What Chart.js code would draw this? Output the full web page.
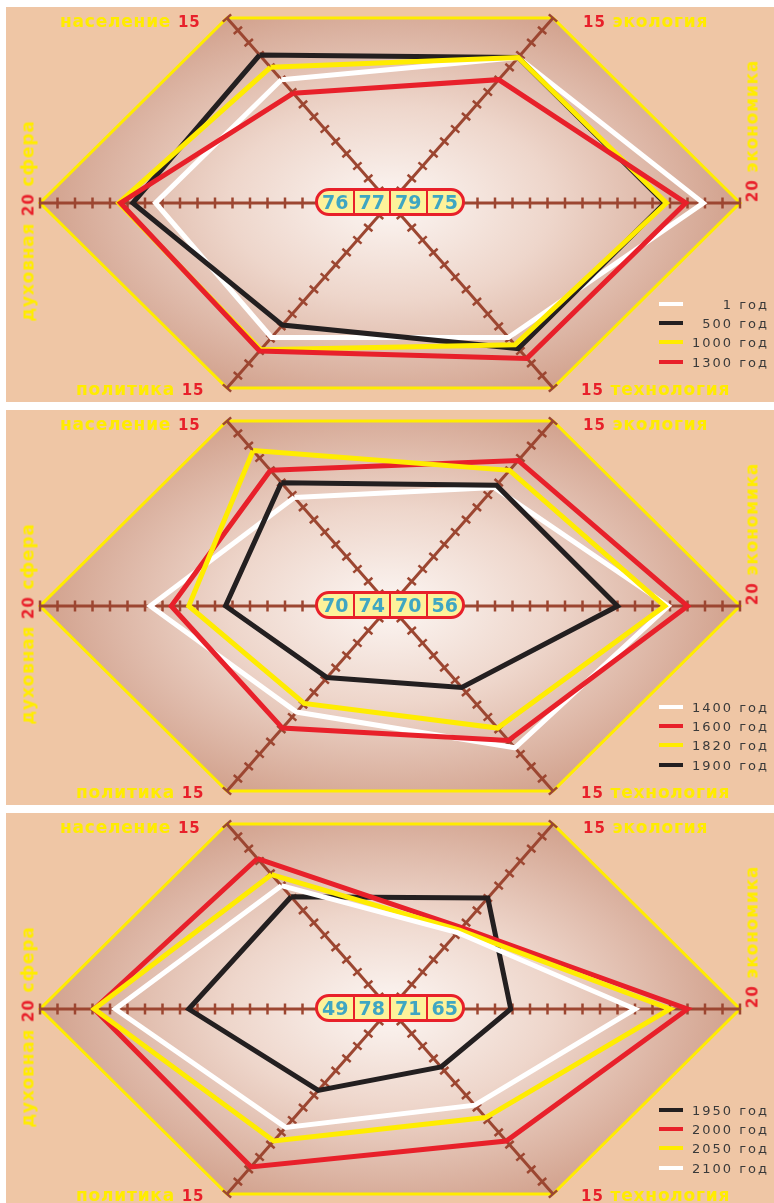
<!DOCTYPE html>
<html>
<head>
<meta charset="utf-8">
<script src="https://cdn.jsdelivr.net/npm/chart.js@4.4.1/dist/chart.umd.min.js"></script>
<style>
    body { margin: 0; background: #fff; width: 774px; height: 1203px; position: relative; overflow: hidden; font-family: "DejaVu Sans", sans-serif; }
    .panel { position: absolute; left: 6px; width: 768px; height: 395px; background: #efc6a5; }
    .panel canvas { position: absolute; left: 0; top: 0; }
    .lbl { position: absolute; font-weight: bold; color: #ffec00; font-size: 17px; white-space: nowrap; line-height: 1; letter-spacing: 0.8px; }
    .lbl b { color: #e8202a; font-size: 15px; letter-spacing: 1px; }
    .vlbl { transform: translate(-50%, -50%) rotate(-90deg); }
    .box { position: absolute; left: 309px; top: 181px; width: 144px; height: 22px; border: 3px solid #e8202a; border-radius: 14px; background: #fdf29a; display: flex; overflow: hidden; }
    .box div { flex: 1; text-align: center; color: #3fa6c2; font-weight: bold; font-size: 19px; line-height: 22px; border-left: 2px solid #e8202a; }
    .box div:first-child { border-left: none; }
    .leg-line { position: absolute; left: 653px; width: 24px; height: 4px; }
    .leg-text { position: absolute; right: 5px; font-size: 13px; letter-spacing: 2px; color: #3a3a3a; line-height: 1; white-space: nowrap; }
</style>
</head>
<body>
<script>
// axes: население, экология, экономика, технология, политика, духовная сфера
const axisNames = ["население", "экология", "экономика", "технология", "политика", "духовная сфера"];
const axisMax = [15, 15, 20, 15, 15, 20];

// panel 1
const years1 = ["1 год", "500 год", "1000 год", "1300 год"];
const p1y1 = [10.0, 11.8, 17.9, 10.9, 10.9, 13.4];
const p1y500 = [12.0, 11.8, 15.7, 11.8, 9.9, 14.7];
const p1y1000 = [11.0, 11.8, 15.8, 11.5, 11.9, 15.5];
const p1y1300 = [8.9, 10.0, 16.9, 12.6, 12.0, 15.4];
const index1 = [76, 77, 79, 75];

// panel 2
const years2 = ["1400 год", "1600 год", "1820 год", "1900 год"];
const p2y1400 = [8.8, 9.6, 15.9, 11.5, 8.6, 13.7];
const p2y1600 = [11.0, 11.8, 17.0, 10.9, 9.9, 12.5];
const p2y1820 = [12.6, 11.0, 15.7, 9.9, 7.9, 11.5];
const p2y1900 = [10.0, 9.8, 13.0, 6.6, 5.8, 9.4];
const index2 = [70, 74, 70, 56];

// panel 3
const years3 = ["1950 год", "2000 год", "2050 год", "2100 год"];
const p3y1950 = [9.1, 9.0, 6.9, 4.7, 6.6, 11.5];
const p3y2000 = [12.2, 6.6, 17.0, 10.7, 12.8, 16.9];
const p3y2050 = [10.9, 6.4, 16.0, 8.8, 10.7, 16.9];
const p3y2100 = [10.0, 6.2, 14.0, 7.8, 9.6, 15.7];
const index3 = [49, 78, 71, 65];

const WHITE = "#ffffff", BLACK = "#231f20", YELLOW = "#ffec00", RED = "#e8202a";

// pixel length of one unit along each axis
const dirs = [
    [-163 / 15, 185 / 15], [163 / 15, 185 / 15], [350 / 20, 0],
    [163 / 15, -185 / 15], [-163 / 15, -185 / 15], [-350 / 20, 0]
];

function toXY(vals) {
    const pts = vals.map((v, i) => ({ x: dirs[i][0] * v, y: dirs[i][1] * v }));
    pts.push(pts[0]);
    return pts;
}

const hexPlugin = {
    id: "hexPlugin",
    beforeDatasetsDraw(chart) {
        const { ctx, scales: { x, y } } = chart;
        const px = (u, v) => [x.getPixelForValue(u), y.getPixelForValue(v)];
        const ends = dirs.map((d, i) => px(d[0] * axisMax[i], d[1] * axisMax[i]));
        const [cx, cy] = px(0, 0);

        ctx.save();
        ctx.beginPath();
        ends.forEach((p, i) => i ? ctx.lineTo(p[0], p[1]) : ctx.moveTo(p[0], p[1]));
        ctx.closePath();
        ctx.save();
        ctx.translate(cx, cy);
        ctx.scale(1, 0.6);
        const g = ctx.createRadialGradient(0, 0, 0, 0, 0, 360);
        g.addColorStop(0, "#fcf6f3");
        g.addColorStop(0.45, "#eed6cb");
        g.addColorStop(1, "#d09e89");
        ctx.fillStyle = g;
        ctx.fill();
        ctx.restore();
        ctx.lineWidth = 3;
        ctx.strokeStyle = "#ffec00";
        ctx.lineJoin = "miter";
        ctx.stroke();

        ctx.strokeStyle = "#9c4631";
        for (let i = 0; i < 3; i++) {
            ctx.lineWidth = 3;
            ctx.beginPath();
            ctx.moveTo(ends[i][0], ends[i][1]);
            ctx.lineTo(ends[i + 3][0], ends[i + 3][1]);
            ctx.stroke();
        }
        ctx.lineWidth = 2.5;
        dirs.forEach((d, i) => {
            const len = Math.hypot(ends[i][0] - cx, ends[i][1] - cy);
            const ux = (ends[i][0] - cx) / len, uy = (ends[i][1] - cy) / len;
            for (let k = 1; k <= axisMax[i]; k++) {
                const [tx, ty] = px(d[0] * k, d[1] * k);
                ctx.beginPath();
                ctx.moveTo(tx - uy * 5.5, ty + ux * 5.5);
                ctx.lineTo(tx + uy * 5.5, ty - ux * 5.5);
                ctx.stroke();
            }
        });
        ctx.restore();
    }
};

function buildPanel(top, years, series, colors, index) {
    const panel = document.createElement("div");
    panel.className = "panel";
    panel.style.top = top + "px";
    const canvas = document.createElement("canvas");
    canvas.width = 768;
    canvas.height = 395;
    panel.appendChild(canvas);
    document.body.appendChild(panel);

    const datasets = series.map((vals, i) => ({
        label: years[i],
        data: toXY(vals),
        showLine: true,
        borderColor: colors[i],
        borderWidth: 5,
        borderJoinStyle: "miter",
        pointRadius: 0,
        fill: false,
        tension: 0
    })).reverse();

    new Chart(canvas, {
        type: "scatter",
        data: { datasets },
        options: {
            responsive: false,
            animation: false,
            layout: { padding: 0 },
            scales: {
                x: { display: false, min: -384, max: 384 },
                y: { display: false, min: -199, max: 196 }
            },
            plugins: { legend: { display: false }, tooltip: { enabled: false } }
        },
        plugins: [hexPlugin]
    });

    panel.insertAdjacentHTML("beforeend", `
        <div class="lbl" style="left:54px;top:6px">${axisNames[0]} <b>15</b></div>
        <div class="lbl" style="left:577px;top:6px"><b>15</b> ${axisNames[1]}</div>
        <div class="lbl" style="left:70px;top:374px">${axisNames[4]} <b>15</b></div>
        <div class="lbl" style="left:575px;top:374px"><b>15</b> ${axisNames[3]}</div>
        <div class="lbl vlbl" style="left:22px;top:214px">духовная <b>20</b> сфера</div>
        <div class="lbl vlbl" style="left:746px;top:124px"><b>20</b> ${axisNames[2]}</div>
        <div class="box">${index.map(v => `<div>${v}</div>`).join("")}</div>
    `);

    years.forEach((yr, i) => {
        const rowY = 297 + i * 19.2;
        panel.insertAdjacentHTML("beforeend", `
            <div class="leg-line" style="top:${rowY - 2}px;background:${colors[i]}"></div>
            <div class="leg-text" style="top:${rowY - 6}px">${yr}</div>
        `);
    });
}

buildPanel(7, years1, [p1y1, p1y500, p1y1000, p1y1300], [WHITE, BLACK, YELLOW, RED], index1);
buildPanel(410, years2, [p2y1400, p2y1600, p2y1820, p2y1900], [WHITE, RED, YELLOW, BLACK], index2);
buildPanel(813, years3, [p3y1950, p3y2000, p3y2050, p3y2100], [BLACK, RED, YELLOW, WHITE], index3);
</script>
</body>
</html>
